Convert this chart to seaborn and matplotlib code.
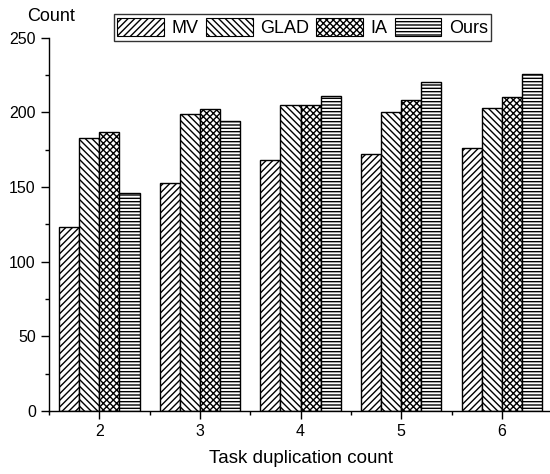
import numpy as np
import pandas as pd
import matplotlib
matplotlib.use("Agg")
import matplotlib.pyplot as plt
from matplotlib.patches import Patch
from matplotlib.ticker import MultipleLocator, FixedLocator
import seaborn as sns

categories = ["2", "3", "4", "5", "6"]
methods = ["MV", "GLAD", "IA", "Ours"]
mv = [123, 153, 168, 172, 176]
glad = [183, 199, 205, 200, 203]
ia = [187, 202, 205, 208, 210]
ours = [146, 194, 211, 220, 226]
hatches = ["/////", "\\\\\\\\\\", "xxxxx", "-----"]

sns.set_style("white")
plt.rcParams["font.family"] = ["Liberation Sans", "DejaVu Sans"]
plt.rcParams["hatch.linewidth"] = 1.0
plt.rcParams["text.color"] = "black"
plt.rcParams["axes.labelcolor"] = "black"
plt.rcParams["xtick.color"] = "black"
plt.rcParams["ytick.color"] = "black"

rows = []
for m, vals in zip(methods, [mv, glad, ia, ours]):
    for c, v in zip(categories, vals):
        rows.append({"dup": c, "method": m, "count": v})
df = pd.DataFrame(rows)

fig = plt.figure(figsize=(5.5, 4.74), dpi=100)
ax = fig.add_axes([0.089, 0.133, 0.915, 0.7875])

sns.barplot(data=df, x="dup", y="count", hue="method", order=categories,
            hue_order=methods, width=0.8, palette=["white"] * 4,
            edgecolor="black", linewidth=1.0, legend=False, ax=ax, errorbar=None)

for i, container in enumerate(ax.containers):
    for p in container.patches:
        p.set_hatch(hatches[i])
        p.set_edgecolor("black")
        p.set_facecolor("white")

ax.set_xlim(-0.5, 4.5)
ax.set_ylim(0, 250)
ax.yaxis.set_major_locator(MultipleLocator(50))
ax.yaxis.set_minor_locator(MultipleLocator(25))
ax.xaxis.set_minor_locator(FixedLocator(np.arange(-0.5, 4.6, 1.0)))

for s in ["top", "right"]:
    ax.spines[s].set_visible(False)
for s in ["left", "bottom"]:
    ax.spines[s].set_color("black")
    ax.spines[s].set_linewidth(1.0)

ax.tick_params(axis="both", which="major", direction="out", length=6, width=1,
               colors="black", labelsize=11.5, bottom=True, left=True)
ax.tick_params(axis="both", which="minor", direction="out", length=3, width=1,
               colors="black", bottom=True, left=True)

ax.set_xlabel("Task duplication count", fontsize=13.5, labelpad=8, color="black")
ax.set_ylabel("")
fig.text(0.093, 0.965, "Count", ha="center", va="center", fontsize=13, color="black")

handles = [Patch(facecolor="white", edgecolor="black", hatch=h, label=m, linewidth=0.8)
           for m, h in zip(methods, hatches)]
leg = fig.legend(handles=handles, loc="center", bbox_to_anchor=(0.55, 0.942), ncol=4,
                 fontsize=13, frameon=True, fancybox=False, edgecolor="black",
                 handlelength=2.6, handleheight=1.2, columnspacing=0.4, handletextpad=0.4,
                 borderpad=0.2, borderaxespad=0)
for t in leg.get_texts():
    t.set_color("black")

fig.savefig("out.png", dpi=100)
